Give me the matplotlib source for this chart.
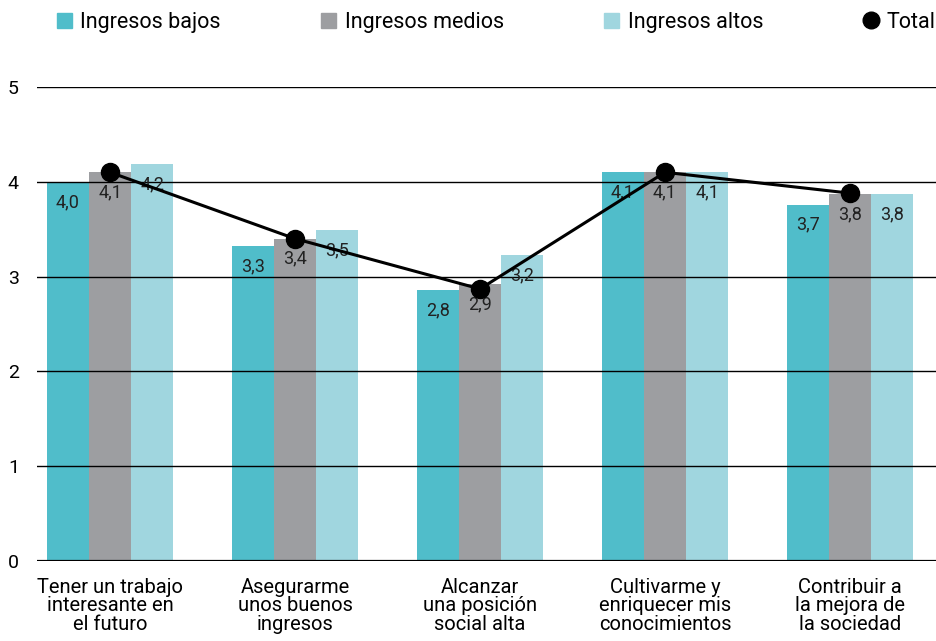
"""Valoración de metas por nivel de ingresos"""
import matplotlib
matplotlib.use("Agg")
import matplotlib.pyplot as plt
from matplotlib.lines import Line2D
from matplotlib.patches import Patch
import numpy as np

plt.rcParams["font.family"] = ["Roboto", "DejaVu Sans"]

categorias = [
    "Tener un trabajo\ninteresante en\nel futuro",
    "Asegurarme\nunos buenos\ningresos",
    "Alcanzar\nuna posición\nsocial alta",
    "Cultivarme y\nenriquecer mis\nconocimientos",
    "Contribuir a\nla mejora de\nla sociedad",
]
bajos = [4.0, 3.32, 2.86, 4.10, 3.76]
medios = [4.10, 3.40, 2.92, 4.10, 3.87]
altos = [4.19, 3.49, 3.23, 4.10, 3.87]
total = [4.10, 3.40, 2.87, 4.10, 3.88]

etiq_bajos = ["4,0", "3,3", "2,8", "4,1", "3,7"]
etiq_medios = ["4,1", "3,4", "2,9", "4,1", "3,8"]
etiq_altos = ["4,2", "3,5", "3,2", "4,1", "3,8"]

c_bajos = "#50bdca"
c_medios = "#9d9ea1"
c_altos = "#a0d6df"

fig = plt.figure(figsize=(9.36, 6.41), dpi=100)
ax = fig.add_axes([0.0395, 0.1248, 0.9605, 0.7395])

x = np.arange(len(categorias))
w = 0.228
series = [(bajos, etiq_bajos, c_bajos, -w), (medios, etiq_medios, c_medios, 0), (altos, etiq_altos, c_altos, w)]
for vals, etiqs, col, off in series:
    bars = ax.bar(x + off, vals, width=w, color=col, zorder=1)
    for b, t in zip(bars, etiqs):
        ax.annotate(t, (b.get_x() + b.get_width() / 2, b.get_height()),
                    xytext=(0, -8), textcoords="offset points",
                    ha="center", va="top", fontsize=13, color="#222222", zorder=4)

for yv in range(0, 6):
    ax.axhline(yv, color="black", lw=1.6 if yv == 0 else 1.0, zorder=2)

ax.plot(x, total, color="black", lw=2.2, marker="o", markersize=13, zorder=5)

ax.set_xlim(-0.395, 4.465)
ax.set_ylim(0, 5)
ax.set_yticks(range(0, 6))
ax.tick_params(axis="y", length=0, labelsize=14, pad=13)
ax.set_xticks(x)
ax.set_xticklabels(categorias, fontsize=14.5, linespacing=0.98)
ax.tick_params(axis="x", length=0, pad=12)
for s in ax.spines.values():
    s.set_visible(False)

handles = [
    Patch(color=c_bajos, label="Ingresos bajos"),
    Patch(color=c_medios, label="Ingresos medios"),
    Patch(color=c_altos, label="Ingresos altos"),
    Line2D([], [], color="black", marker="o", ls="none", markersize=12, label="Total"),
]
fig.legend(handles=handles, loc="upper left", bbox_to_anchor=(0.040, 1.012), ncol=4,
           frameon=False, fontsize=15.5, handlelength=0.7, handleheight=0.7,
           handletextpad=0.4, columnspacing=4.65)

fig.savefig("out.png", dpi=100)
